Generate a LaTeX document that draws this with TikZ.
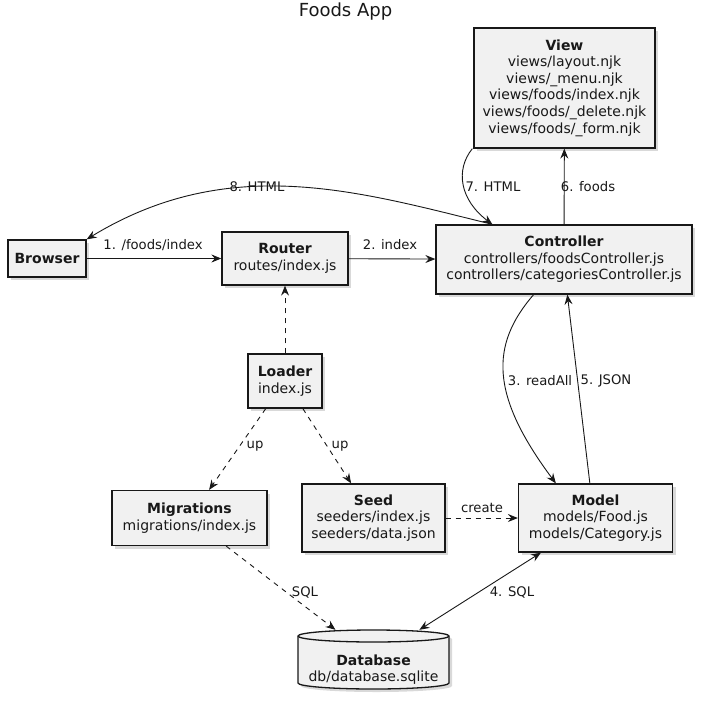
\documentclass[tikz,border=0pt]{standalone}
\usepackage{fontspec}
\setmainfont{DejaVu Sans}
\usetikzlibrary{arrows.meta, shadows}

\definecolor{boxfill}{HTML}{F1F1F1}
\definecolor{ink}{HTML}{181818}

\begin{document}
\begin{tikzpicture}[
    x=1pt, y=-1pt,
    every node/.style={text=ink},
    box text/.style={align=center, font=\fontsize{14}{16.6}\selectfont},
    outline/.style={draw=ink, line width=1.3pt, fill=boxfill,
        drop shadow={shadow xshift=3pt, shadow yshift=-3pt, opacity=.3, fill=gray}},
    box/.style={box text, outline, inner sep=3pt},
    lbl/.style={font=\fontsize{13.2}{15}\selectfont, inner sep=1pt},
    arrow/.style={-{Stealth[length=10pt, width=8pt, inset=3.5pt]}, ink, line width=.9pt},
    both arrow/.style={arrow, {Stealth[length=10pt, width=8pt, inset=3.5pt]}-{Stealth[length=10pt, width=8pt, inset=3.5pt]}},
    dashed arrow/.style={arrow, dash pattern=on 5pt off 5pt}]

\useasboundingbox (0,0) rectangle (708,703);

\node[font=\fontsize{18}{20}\selectfont] (title) at (345.5,12) {Foods App};

\node[box, minimum width=181pt, minimum height=120pt] (view) at (564.5,88)
    {\textbf{View}\\views/layout.njk\\views/\_menu.njk\\views/foods/index.njk\\views/foods/\_delete.njk\\views/foods/\_form.njk};
\node[box, minimum width=256pt, minimum height=69pt] (ctrl) at (564,259.5)
    {\textbf{Controller}\\controllers/foodsController.js\\controllers/categoriesController.js};
\node[box, minimum width=78pt, minimum height=37pt] (browser) at (47,258.5) {\textbf{Browser}};
\node[box, minimum width=126pt, minimum height=53pt] (router) at (285,258.5) {\textbf{Router}\\routes/index.js};
\node[box, minimum width=74pt, minimum height=54pt] (loader) at (285,381) {\textbf{Loader}\\index.js};
\node[box, minimum width=155pt, minimum height=55pt] (mig) at (189.5,518) {\textbf{Migrations}\\migrations/index.js};
\node[box, minimum width=143pt, minimum height=68pt] (seed) at (373.5,518) {\textbf{Seed}\\seeders/index.js\\seeders/data.json};
\node[box, minimum width=154pt, minimum height=68pt] (model) at (595.5,518) {\textbf{Model}\\models/Food.js\\models/Category.js};

% database drum
\draw[outline] (298,636) -- (298,683) arc[start angle=180, end angle=0, x radius=75.5, y radius=6]
    -- (449,636) arc[start angle=360, end angle=180, x radius=75.5, y radius=6] -- cycle;
\draw[draw=ink, line width=1.3pt] (298,636) arc[start angle=180, end angle=0, x radius=75.5, y radius=6];
\node[minimum width=151pt, minimum height=58pt] (db) at (373.5,659) {};
\node[box text] (dbname) at (373.5,669.5) {\textbf{Database}\\db/database.sqlite};

% request flow
\draw[arrow] (browser) -- (router);
\draw[arrow] (router) -- (ctrl);
\draw[arrow] (ctrl) .. controls (490,345) and (490,395) .. ([xshift=38pt]model.north west);
\draw[arrow] ([xshift=72pt]model.north west) -- ([xshift=132pt]ctrl.south west);
\draw[arrow] (ctrl) -- (view);
\draw[arrow] ([xshift=-1pt]view.south west) .. controls (455,170) and (460,200) .. ([xshift=57pt]ctrl.north west);
\draw[arrow] ([xshift=57pt]ctrl.north west) .. controls (360,192) and (230,152) .. (browser.north east);

% loader and data
\draw[dashed arrow] (loader) -- (router);
\draw[dashed arrow] (loader) -- (mig);
\draw[dashed arrow] (loader) -- (seed);
\draw[dashed arrow] (seed) -- (model);
\draw[dashed arrow] (mig) -- (db);
\draw[both arrow] (model) -- (db);

\node[lbl] (l1) at (153,245) {1. /foods/index};
\node[lbl] (l2) at (390,245) {2. index};
\node[lbl] (l3) at (540,381) {3. readAll};
\node[lbl] (l4) at (512,592) {4. SQL};
\node[lbl] (l5) at (606,381) {5. JSON};
\node[lbl] (l6) at (588,187) {6. foods};
\node[lbl] (l7) at (493,187) {7. HTML};
\node[lbl] (l8) at (257,187) {8. HTML};
\node[lbl] (up1) at (255,446) {up};
\node[lbl] (up2) at (340,446) {up};
\node[lbl] (create) at (482,508) {create};
\node[lbl] (sql) at (305,592) {SQL};

\end{tikzpicture}
\end{document}
